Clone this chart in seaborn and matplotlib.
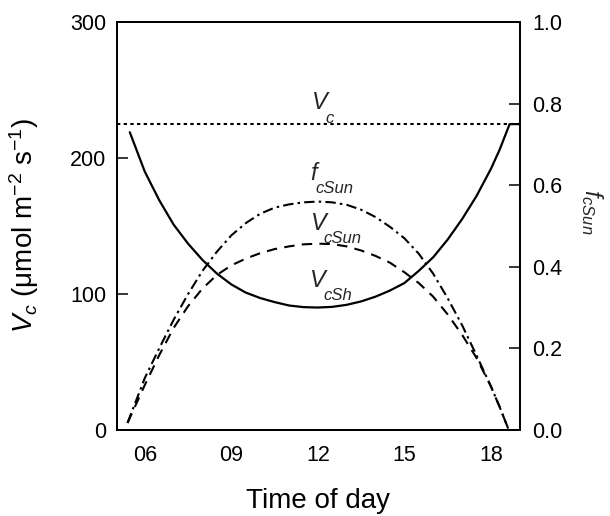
import matplotlib
matplotlib.use("Agg")
import matplotlib.pyplot as plt
import seaborn as sns
import pandas as pd

sns.set_theme(style="white")
plt.rcParams['font.family'] = ['Liberation Sans', 'DejaVu Sans']
plt.rcParams['mathtext.fontset'] = 'custom'
plt.rcParams['mathtext.rm'] = 'Liberation Sans'
plt.rcParams['mathtext.it'] = 'Liberation Sans:italic'
plt.rcParams['mathtext.default'] = 'it'

# ---- data ----
time_vc = [5.04, 19.0]
vc = [225, 225]

time_sh = [5.48, 6.0, 6.5, 7.0, 7.5, 8.0, 8.5, 9.0, 9.5, 10.0, 10.5, 11.0, 11.5, 12.0,
           12.5, 13.0, 13.5, 14.0, 14.5, 15.0, 15.5, 16.0, 16.5, 17.0, 17.5, 18.0,
           18.3, 18.65, 19.0]
vc_sh = [219, 190, 169, 151, 137, 125, 115, 107, 101, 97, 94, 91.5, 90.3, 90,
         90.5, 92, 94.5, 98, 102.5, 108, 117, 127, 140, 155, 172, 192,
         206, 225, 225]

time_sun = [5.4, 6.0, 6.5, 7.0, 7.5, 8.0, 8.5, 9.0, 9.5, 10.0, 10.5, 11.0, 11.5, 12.0,
            12.5, 13.0, 13.5, 14.0, 14.5, 15.0, 15.5, 16.0, 16.5, 17.0, 17.5, 18.0,
            18.3, 18.6]
vc_sun = [5, 33, 55, 75, 91, 104, 114, 121, 126, 130, 133, 135, 136.5, 137,
          136.7, 135, 132, 128, 123, 116, 108, 98, 85, 70, 53, 32,
          17, 1]

time_f = [5.4, 6.0, 6.5, 7.0, 7.5, 8.0, 8.5, 9.0, 9.5, 10.0, 10.5, 11.0, 11.5, 12.0,
          12.5, 13.0, 13.5, 14.0, 14.5, 15.0, 15.5, 16.0, 16.5, 17.0, 17.5, 18.0,
          18.3, 18.6]
f_sun = [0.017, 0.127, 0.200, 0.270, 0.333, 0.390, 0.437, 0.477, 0.507, 0.530, 0.545,
         0.553, 0.558, 0.560, 0.558, 0.552, 0.540, 0.522, 0.498, 0.470, 0.432, 0.383,
         0.323, 0.257, 0.183, 0.107, 0.057, 0.003]

xticks = [6, 9, 12, 15, 18]
xticklabels = ["06", "09", "12", "15", "18"]
yticks_left = [0, 100, 200, 300]
yticks_right = [0.0, 0.2, 0.4, 0.6, 0.8, 1.0]

# curve labels: (main letter, subscript)
curve_labels = [("V", "c"), ("f", "cSun"), ("V", "cSun"), ("V", "cSh")]

fig = plt.figure(figsize=(6.10, 5.16), dpi=100)
ax = fig.add_axes([0.192, 0.167, 0.660, 0.790])
ax2 = ax.twinx()

df_vc = pd.DataFrame({"t": time_vc, "v": vc})
df_sh = pd.DataFrame({"t": time_sh, "v": vc_sh})
df_sun = pd.DataFrame({"t": time_sun, "v": vc_sun})
df_f = pd.DataFrame({"t": time_f, "f": f_sun})

sns.lineplot(data=df_vc, x="t", y="v", ax=ax, color="black", lw=1.5,
             linestyle=(0, (1.6, 1.6)), estimator=None, sort=False)
sns.lineplot(data=df_sh, x="t", y="v", ax=ax, color="black", lw=1.6,
             estimator=None, sort=False)
sns.lineplot(data=df_sun, x="t", y="v", ax=ax, color="black", lw=1.5,
             linestyle=(0, (5, 3.5)), estimator=None, sort=False)
sns.lineplot(data=df_f, x="t", y="f", ax=ax2, color="black", lw=1.5,
             linestyle=(0, (5, 2, 1.2, 2)), estimator=None, sort=False)

ax.set_xlim(5.04, 19.0)
ax.set_ylim(0, 300)
ax2.set_ylim(0, 1.0)

ax.set_xticks(xticks)
ax.set_xticklabels(xticklabels)
ax.set_yticks(yticks_left)
ax2.set_yticks(yticks_right)
ax2.set_yticklabels([f"{v:.1f}" for v in yticks_right])

for a in (ax, ax2):
    for s in a.spines.values():
        s.set_color("black")
        s.set_linewidth(1.3)
    a.grid(False)

ax.tick_params(axis='x', direction='in', length=8, width=1.1, labelsize=15.5,
               colors='black', pad=11)
ax.tick_params(axis='y', direction='in', length=8, width=1.1, labelsize=15.5,
               colors='black', pad=8)
ax2.tick_params(axis='y', direction='in', length=8, width=1.1, labelsize=15.5,
                colors='black', pad=9)

ax.set_xlabel("Time of day", fontsize=20, labelpad=16, color='black')
ax.set_ylabel(r"$V_c$ $\mathrm{(\mu mol\ m^{-2}\ s^{-1})}$", fontsize=20,
              color='black')
ax.yaxis.set_label_coords(-0.19, 0.5)
ax2.set_ylabel("")
ax2.text(1.18, 0.535, r"$f_{cSun}$", fontsize=17, rotation=270,
         ha='center', va='center', transform=ax.transAxes)

# main letter position (t, v) and subscript position (t, v), baseline anchored
main_pos = [(11.81, 236), (11.72, 183.8), (11.77, 147), (11.74, 105)]
sub_pos = [(12.25, 226), (11.93, 174.3), (12.19, 137.5), (12.19, 95.6)]
for (m, s), (mt, mv), (st, sv) in zip(curve_labels, main_pos, sub_pos):
    ax.text(mt, mv, m, fontsize=17, fontstyle='italic', ha='left', va='baseline')
    ax.text(st, sv, s, fontsize=12, fontstyle='italic', ha='left', va='baseline')

fig.savefig("out.png", dpi=100)
